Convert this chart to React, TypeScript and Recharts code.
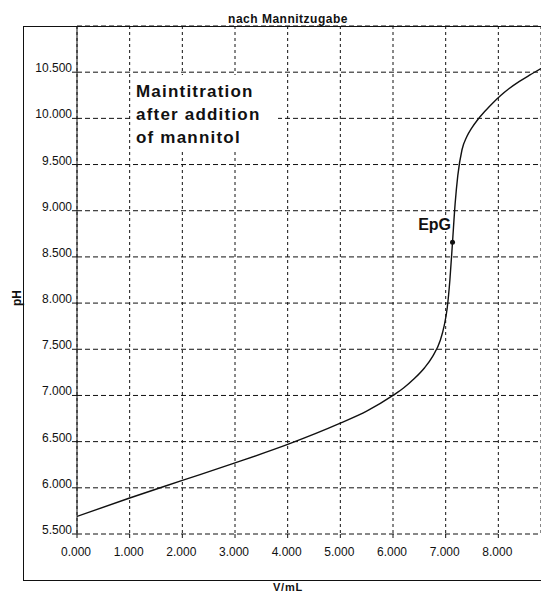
import React from 'react';
import {
  LineChart,
  Line,
  XAxis,
  YAxis,
  CartesianGrid,
  ReferenceDot,
} from 'recharts';

// titration curve (V in mL, pH)
const volume = [
  0, 1, 2, 3, 4, 5, 5.5, 6, 6.2, 6.4, 6.6, 6.75, 6.9, 6.97, 7.03, 7.08, 7.13,
  7.18, 7.23, 7.31, 7.4, 7.5, 7.6, 7.75, 7.9, 8.05, 8.2, 8.4, 8.6, 8.81,
];
const phValues = [
  5.69, 5.89, 6.08, 6.27, 6.47, 6.7, 6.83, 7.0, 7.08, 7.18, 7.3, 7.42, 7.6,
  7.75, 7.95, 8.25, 8.66, 9.08, 9.38, 9.66, 9.8, 9.9, 9.98, 10.08, 10.17,
  10.25, 10.32, 10.4, 10.47, 10.54,
];

const xTicks = [0, 1, 2, 3, 4, 5, 6, 7, 8];
const yTicks = [5.5, 6, 6.5, 7, 7.5, 8, 8.5, 9, 9.5, 10, 10.5];

// equivalence point
const epgVolume = 7.13;
const epgPh = 8.66;

const annotationLines = ['Maintitration', 'after addition', 'of mannitol'];

const font = '"Liberation Sans", Arial, sans-serif';

const YTick = ({ x, y, payload }: any) => (
  <text x={x} y={y} textAnchor="end" fontSize={12} fontFamily={font} fill="#111">
    {Number(payload.value).toFixed(3)}
  </text>
);

const XTick = ({ x, y, payload }: any) => (
  <text x={x - 1} y={y + 18} textAnchor="middle" fontSize={12} fontFamily={font} fill="#111">
    {Number(payload.value).toFixed(3)}
  </text>
);

const EpgLabel = ({ viewBox }: any) => {
  const cx = viewBox.x + viewBox.width / 2;
  const cy = viewBox.y + viewBox.height / 2;
  return (
    <text
      x={cx - 1.5}
      y={cy - 12}
      textAnchor="end"
      fontSize={16}
      fontWeight="bold"
      fontFamily={font}
      fill="#111"
      stroke="#fff"
      strokeWidth={3}
      paintOrder="stroke"
    >
      EpG
    </text>
  );
};

export default function App() {
  const data = volume.map((v, i) => ({ v, ph: phValues[i] }));

  return (
    <div
      style={{
        position: 'absolute',
        left: 0,
        top: 0,
        width: 541,
        height: 594,
        overflow: 'hidden',
        background: '#fff',
        fontFamily: font,
        color: '#111',
      }}
    >
      {/* outer frame, right side runs off the page */}
      <div
        style={{
          position: 'absolute',
          left: 23,
          top: 26,
          width: 600,
          height: 555,
          boxSizing: 'border-box',
          borderLeft: '1px solid #111',
          borderTop: '1px solid #111',
          borderBottom: '1px solid #111',
        }}
      />

      <LineChart
        width={541}
        height={594}
        data={data}
        margin={{ top: 26, right: 0, left: 0, bottom: 0 }}
        style={{ position: 'absolute', left: 0, top: 0 }}
      >
        <CartesianGrid horizontal vertical={false} stroke="#111" strokeDasharray="5 3" />
        <CartesianGrid horizontal={false} vertical stroke="#111" strokeDasharray="3 3" />
        <XAxis
          type="number"
          dataKey="v"
          domain={[0, 8.81]}
          ticks={xTicks}
          allowDataOverflow
          height={60}
          axisLine={false}
          tickSize={4}
          tickMargin={0}
          tickLine={{ stroke: '#111' }}
          tick={<XTick />}
        />
        <YAxis
          type="number"
          domain={[5.5, 11]}
          ticks={yTicks}
          allowDataOverflow
          width={77}
          axisLine={{ stroke: '#111' }}
          tickSize={5}
          tickMargin={0}
          tickLine={{ stroke: '#111' }}
          tick={<YTick />}
        />
        <Line
          type="monotone"
          dataKey="ph"
          stroke="#111"
          strokeWidth={1.4}
          dot={false}
          isAnimationActive={false}
        />
        <ReferenceDot
          x={epgVolume}
          y={epgPh}
          r={2.5}
          fill="#111"
          stroke="none"
          label={EpgLabel}
        />
      </LineChart>

      {/* chart title */}
      <div
        style={{
          position: 'absolute',
          left: 288,
          top: 13,
          transform: 'translateX(-50%)',
          fontSize: 12,
          lineHeight: '12px',
          fontWeight: 'bold',
          letterSpacing: 0.5,
          whiteSpace: 'nowrap',
        }}
      >
        nach Mannitzugabe
      </div>

      {/* annotation box */}
      <div
        style={{
          position: 'absolute',
          left: 133,
          top: 75,
          width: 145,
          height: 75,
          boxSizing: 'border-box',
          paddingTop: 5,
          paddingLeft: 3,
          background: '#fff',
          fontSize: 17,
          lineHeight: '23px',
          fontWeight: 'bold',
          letterSpacing: 1.2,
          whiteSpace: 'nowrap',
        }}
      >
        {annotationLines.map(line => (
          <div key={line}>{line}</div>
        ))}
      </div>

      {/* axis titles */}
      <div
        style={{
          position: 'absolute',
          left: 17,
          top: 298,
          transform: 'translate(-50%, -50%) rotate(-90deg)',
          fontSize: 12,
          lineHeight: '12px',
          fontWeight: 'bold',
        }}
      >
        pH
      </div>
      <div
        style={{
          position: 'absolute',
          left: 288,
          top: 582,
          transform: 'translateX(-50%)',
          fontSize: 11,
          lineHeight: '11px',
          fontWeight: 'bold',
          letterSpacing: 0.8,
        }}
      >
        V/mL
      </div>
    </div>
  );
}
